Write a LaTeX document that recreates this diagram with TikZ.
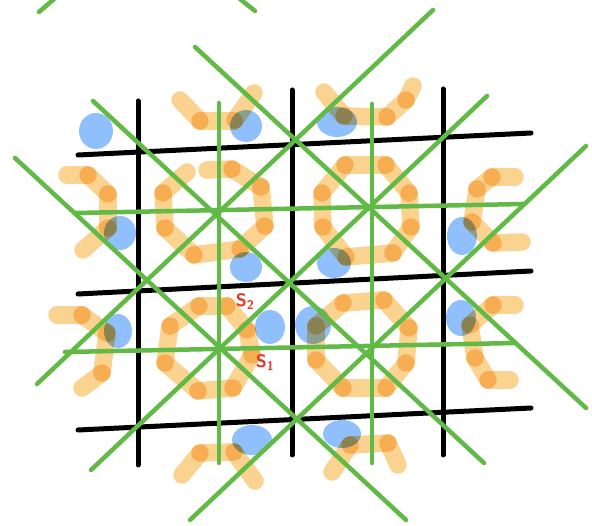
\documentclass[tikz,border=0pt]{standalone}
\usepackage{tikz}
\usepackage{xcolor}
\definecolor{hlorange}{RGB}{251,211,145}
\definecolor{hlblue}{RGB}{143,192,253}
\definecolor{guidegreen}{RGB}{98,186,70}
\definecolor{labelred}{RGB}{232,52,36}

\begin{document}
\begin{tikzpicture}[x=1pt,y=-1pt,
  gridline/.style={line width=5pt,line cap=round,black},
  guideline/.style={line width=4.5pt,line cap=round,guidegreen},
  marker/.style={line width=17.5pt,line cap=round,hlorange,blend mode=multiply},
  blob/.style={fill=hlblue,blend mode=multiply},
  lbl/.style={text=labelred,inner sep=0pt,font=\sffamily\bfseries\fontsize{18}{18}\selectfont}]
  \useasboundingbox (0,0) rectangle (592,526);
  % orange strokes, top and left
  \foreach \xa/\ya/\xb/\yb in {180/100/200/121, 200/121/234/121, 235/120/254/93,
      324/92/344/116, 344/116/387/117, 387/117/406/100, 406/100/413/86,
      67/175/88/175, 88/175/108/194, 108/194/108/228, 108/228/83/250,
      57/315/82/315, 82/315/107/333, 107/333/102/373, 102/373/82/388}
    \draw[marker] (\xa,\ya) -- (\xb,\yb);
  % orange rings round the stars
  \foreach \xa/\ya/\xb/\yb in {187/172/163/193, 163/193/165/228, 165/228/194/255, 194/255/240/249,
      240/249/265/226, 265/226/261/187, 261/187/232/169, 232/169/207/170,
      170/326/199/306, 199/306/227/306, 227/306/247/330, 247/330/252/355,
      252/355/233/388, 233/388/198/391, 198/391/165/363, 165/363/170/326,
      316/326/343/303, 343/303/384/300, 384/300/409/328, 409/328/406/363,
      406/363/386/388, 386/388/343/388, 343/388/316/360, 316/360/316/326,
      322/193/345/165, 345/165/386/165, 386/165/409/193, 409/193/411/227,
      411/227/393/253, 393/253/346/257, 346/257/323/227, 323/227/322/193}
    \draw[marker] (\xa,\ya) -- (\xb,\yb);
  % orange strokes, right and bottom
  \foreach \xa/\ya/\xb/\yb in {515/177/492/177, 492/177/477/189, 477/189/472/222, 472/222/493/243, 493/243/522/242,
      515/305/493/305, 493/305/470/325, 470/325/475/358, 475/358/488/380, 488/380/510/380,
      182/475/200/453, 200/453/234/452, 234/452/255/481,
      332/472/350/445, 350/445/388/443, 388/443/398/465}
    \draw[marker] (\xa,\ya) -- (\xb,\yb);
  % blue blobs
  \foreach \cx/\cy/\rx/\ry in {96/131/17/18, 246/126/16/16, 337/122/20/15, 120/233/16/17,
      246/267/16/15, 270/327/15/17, 313/325/18/19, 252/440/20/15, 342/434/19/14,
      118/331/14/17, 334/263/17/15, 462/236/15/19, 461/318/15/18}
    \fill[blob] (\cx,\cy) ellipse [x radius=\rx, y radius=\ry];
  % black grid
  \draw[gridline] (78,155) -- (531,133);
  \draw[gridline] (78,294) -- (531,271);
  \draw[gridline] (78,430) -- (531,408);
  \draw[gridline] (138,101) -- (138,465);
  \draw[gridline] (292,90) -- (292,455);
  \draw[gridline] (443,89) -- (443,455);
  % green lines
  \draw[guideline] (219,103) -- (219,463);
  \draw[guideline] (372,104) -- (372,463);
  \draw[guideline] (75,213) -- (523,204);
  \draw[guideline] (65,352) -- (515,343);
  \draw[guideline] (195,47) -- (586,408);
  \draw[guideline] (93,101) -- (484,463);
  \draw[guideline] (15,158) -- (406,520);
  \draw[guideline] (37,384) -- (433,10);
  \draw[guideline] (91,470) -- (487,96);
  \draw[guideline] (190,520) -- (586,146);
  \draw[guideline] (39,12) -- (54,-1);
  \draw[guideline] (240,-1) -- (255,11);
  % labels
  \node[lbl] (stwo) at (245,302) {S\textsubscript{2}};
  \node[lbl] (sone) at (265,363) {S\textsubscript{1}};
\end{tikzpicture}
\end{document}
